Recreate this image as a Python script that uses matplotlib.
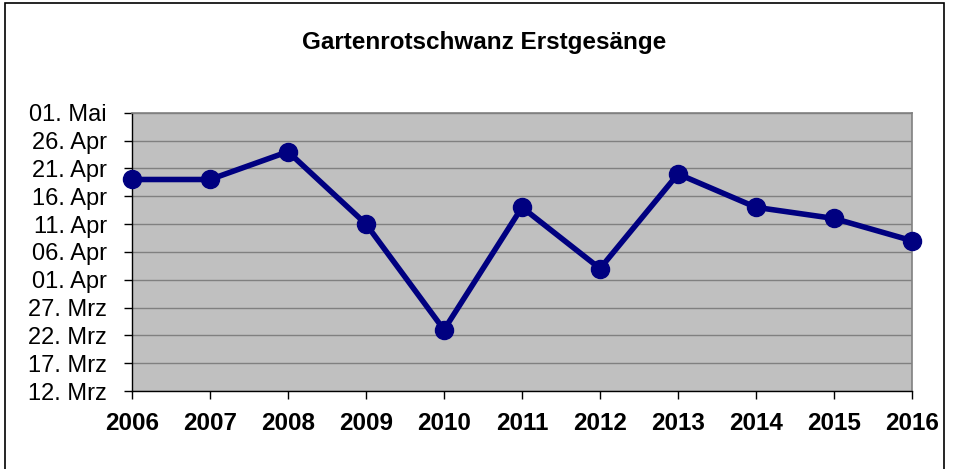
import numpy as np
import pandas as pd
import matplotlib
matplotlib.use("Agg")
import matplotlib.pyplot as plt
import matplotlib.dates as mdates
from matplotlib.ticker import FuncFormatter
from matplotlib.patches import Rectangle

years = [2006, 2007, 2008, 2009, 2010, 2011, 2012, 2013, 2014, 2015, 2016]
firstSong = ["2006-04-19", "2007-04-19", "2008-04-24", "2009-04-11", "2010-03-23",
             "2011-04-14", "2012-04-03", "2013-04-20", "2014-04-14", "2015-04-12",
             "2016-04-08"]
chartTitle = "Gartenrotschwanz Erstgesänge"
germanMonths = {3: "Mrz", 4: "Apr", 5: "Mai"}

plt.rcParams['font.family'] = ['Liberation Sans', 'DejaVu Sans']

# map every date onto the same reference year so only day/month matter
dates = pd.to_datetime(firstSong)
yvals = mdates.date2num([pd.Timestamp(2000, d.month, d.day) for d in dates])
yFrom = mdates.date2num(pd.Timestamp(2000, 3, 12))
yTo = mdates.date2num(pd.Timestamp(2000, 5, 1))

def germanDate(v, pos):
    d = mdates.num2date(v)
    return "{:02d}. {}".format(d.day, germanMonths[d.month])

fig = plt.figure(figsize=(9.55, 4.69), dpi=100)
fig.patches.append(Rectangle((0.005, -0.05), 0.984, 1.043, transform=fig.transFigure,
                             fill=False, edgecolor='black', linewidth=1.2))
ax = fig.add_axes([0.1382, 0.1663, 0.8168, 0.5934])
ax.set_facecolor('#C0C0C0')

ax.set_yticks(np.arange(yFrom, yTo + 1, 5))
ax.set_ylim(yFrom, yTo)
ax.yaxis.set_major_formatter(FuncFormatter(germanDate))
ax.grid(axis='y', color='#808080', linewidth=1.0)
ax.set_axisbelow(True)

ax.plot(years, yvals, color='#000080', linewidth=4, marker='o', markersize=13,
        solid_joinstyle='round', clip_on=False, zorder=5)

ax.set_xlim(years[0], years[-1])
ax.set_xticks(years)
ax.set_xticklabels([str(y) for y in years], fontweight='bold', fontsize=17.5)
for lbl in ax.get_yticklabels():
    lbl.set_fontsize(17)
ax.tick_params(axis='both', direction='out', length=6, width=1, color='black')
ax.tick_params(axis='x', pad=9)
ax.tick_params(axis='y', pad=12)

for side in ['top', 'right']:
    ax.spines[side].set_color('#808080')
    ax.spines[side].set_linewidth(1.2)
for side in ['left', 'bottom']:
    ax.spines[side].set_color('black')
    ax.spines[side].set_linewidth(1.0)

fig.text(0.507, 0.91, chartTitle, ha='center', va='center',
         fontweight='bold', fontsize=17.5)

fig.savefig("out.png", dpi=100)
